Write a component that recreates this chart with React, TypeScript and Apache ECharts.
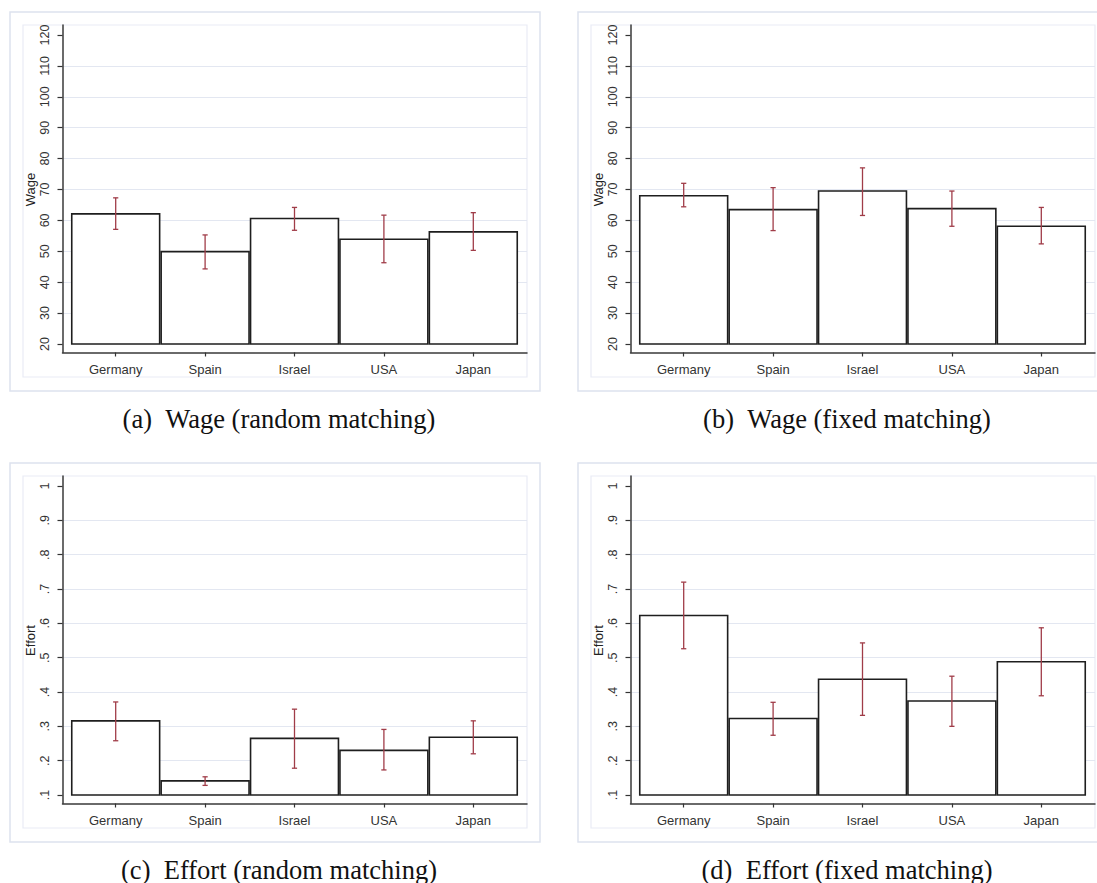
import React, { useEffect, useRef } from "react";
import * as echarts from "echarts";

const countries = ["Germany", "Spain", "Israel", "USA", "Japan"];

const wageRandomMean = [62.1, 49.9, 60.6, 53.9, 56.3];
const wageRandomLow = [57.1, 44.3, 56.8, 46.3, 50.3];
const wageRandomHigh = [67.3, 55.3, 64.2, 61.7, 62.5];

const wageFixedMean = [68.0, 63.5, 69.5, 63.8, 58.1];
const wageFixedLow = [64.4, 56.7, 61.6, 58.1, 52.4];
const wageFixedHigh = [72.0, 70.6, 77.0, 69.5, 64.2];

const effortRandomMean = [0.316, 0.141, 0.265, 0.23, 0.268];
const effortRandomLow = [0.258, 0.128, 0.178, 0.173, 0.22];
const effortRandomHigh = [0.371, 0.153, 0.35, 0.291, 0.316];

const effortFixedMean = [0.623, 0.323, 0.437, 0.374, 0.488];
const effortFixedLow = [0.526, 0.274, 0.332, 0.3, 0.389];
const effortFixedHigh = [0.72, 0.37, 0.543, 0.446, 0.587];

const wageTickLabels = ["20", "30", "40", "50", "60", "70", "80", "90", "100", "110", "120"];
const effortTickLabels = [".1", ".2", ".3", ".4", ".5", ".6", ".7", ".8", ".9", "1"];

const captions = [
  "(a)\u00a0\u00a0Wage (random matching)",
  "(b)\u00a0\u00a0Wage (fixed matching)",
  "(c)\u00a0\u00a0Effort (random matching)",
  "(d)\u00a0\u00a0Effort (fixed matching)",
];

const SANS = "'Liberation Sans', Arial, sans-serif";
const SERIF = "'Liberation Serif', 'Times New Roman', serif";
const ERR_COLOR = "#a03c48";
const GRID_COLOR = "#e3e7f1";

type Panel = {
  dx: number;
  dy: number;
  name: string;
  min: number;
  max: number;
  interval: number;
  tickLabels: string[];
  mean: number[];
  low: number[];
  high: number[];
  caption: string;
};

const panels: Panel[] = [
  { dx: 0, dy: 0, name: "Wage", min: 20, max: 120, interval: 10, tickLabels: wageTickLabels, mean: wageRandomMean, low: wageRandomLow, high: wageRandomHigh, caption: captions[0] },
  { dx: 568, dy: 0, name: "Wage", min: 20, max: 120, interval: 10, tickLabels: wageTickLabels, mean: wageFixedMean, low: wageFixedLow, high: wageFixedHigh, caption: captions[1] },
  { dx: 0, dy: 451, name: "Effort", min: 0.1, max: 1, interval: 0.1, tickLabels: effortTickLabels, mean: effortRandomMean, low: effortRandomLow, high: effortRandomHigh, caption: captions[2] },
  { dx: 568, dy: 451, name: "Effort", min: 0.1, max: 1, interval: 0.1, tickLabels: effortTickLabels, mean: effortFixedMean, low: effortFixedLow, high: effortFixedHigh, caption: captions[3] },
];

function buildOption() {
  const grid: any[] = [];
  const xAxis: any[] = [];
  const yAxis: any[] = [];
  const series: any[] = [];
  const graphic: any[] = [];

  panels.forEach((p, k) => {
    const { dx, dy } = p;
    const nTicks = p.tickLabels.length;
    // Grid A: frame axis lines
    grid.push({ left: 62.5 + dx, top: 25 + dy, width: 464.5, height: 327.5, containLabel: false });
    // Grid B: y ticks, labels, gridlines
    grid.push({ left: 62.5 + dx, top: 35 + dy, width: 464.5, height: 309, containLabel: false });
    // Grid C: data
    grid.push({ left: 71 + dx, top: 35 + dy, width: 447, height: 309, containLabel: false });

    const gA = 3 * k, gB = 3 * k + 1, gC = 3 * k + 2;
    const axisLineStyle = { color: "#3a3a3a", width: 1.5 };

    xAxis.push({
      type: "value", gridIndex: gA, min: 0, max: 1,
      axisLine: { show: true, onZero: false, lineStyle: axisLineStyle },
      axisTick: { show: false }, axisLabel: { show: false }, splitLine: { show: false },
    });
    yAxis.push({
      type: "value", gridIndex: gA, min: 0, max: 1,
      axisLine: { show: true, onZero: false, lineStyle: axisLineStyle },
      axisTick: { show: false }, axisLabel: { show: false }, splitLine: { show: false },
    });

    xAxis.push({ type: "value", gridIndex: gB, min: 0, max: 1, show: false });
    const splitColors = p.tickLabels.map((_, i) => (i === 0 || i === nTicks - 1 ? "rgba(0,0,0,0)" : GRID_COLOR));
    yAxis.push({
      type: "value", gridIndex: gB, min: p.min, max: p.max, interval: p.interval,
      axisLine: { show: false },
      axisTick: { show: true, length: 5, lineStyle: { color: "#333", width: 1.2 } },
      axisLabel: {
        rotate: 90, margin: 11, fontSize: 12.5, color: "#333", fontFamily: SANS,
        formatter: (v: number) => {
          const idx = Math.round((v - p.min) / p.interval);
          return p.tickLabels[idx] ?? "";
        },
      },
      splitLine: { show: true, lineStyle: { color: splitColors, width: 1.2 } },
      name: p.name, nameLocation: "middle", nameGap: 26,
      nameTextStyle: { fontSize: 13, color: "#222", fontFamily: SANS },
    });

    xAxis.push({
      type: "category", gridIndex: gC, data: countries, offset: 8.5,
      axisLine: { show: false },
      axisTick: { show: true, alignWithLabel: true, length: 4, lineStyle: { color: "#333", width: 1.2 } },
      axisLabel: { margin: 10, fontSize: 13, color: "#333", fontFamily: SANS },
      splitLine: { show: false },
    });
    yAxis.push({ type: "value", gridIndex: gC, min: p.min, max: p.max, show: false });

    const data = countries.map((_, i) => [i, p.mean[i], p.low[i], p.high[i]]);
    const base = p.min;

    series.push({
      type: "custom", xAxisIndex: gC, yAxisIndex: gC, data, clip: false, z: 2,
      renderItem: (params: any, api: any) => {
        const i = api.value(0);
        const v = api.value(1);
        const top = api.coord([i, v]);
        const bot = api.coord([i, base]);
        const w = api.size([1, 0])[0];
        return {
          type: "rect",
          shape: { x: top[0] - w / 2 + 0.75, y: top[1], width: w - 1.5, height: bot[1] - top[1] },
          style: { fill: "#ffffff", stroke: "#1e1e1e", lineWidth: 1.6 },
        };
      },
    });
    series.push({
      type: "custom", xAxisIndex: gC, yAxisIndex: gC, data, clip: false, z: 3,
      renderItem: (params: any, api: any) => {
        const i = api.value(0);
        const lo = api.coord([i, api.value(2)]);
        const hi = api.coord([i, api.value(3)]);
        const c = 2.6;
        const st = { stroke: ERR_COLOR, lineWidth: 1.3 };
        return {
          type: "group",
          children: [
            { type: "line", shape: { x1: lo[0], y1: lo[1], x2: hi[0], y2: hi[1] }, style: st },
            { type: "line", shape: { x1: lo[0] - c, y1: lo[1], x2: lo[0] + c, y2: lo[1] }, style: st },
            { type: "line", shape: { x1: hi[0] - c, y1: hi[1], x2: hi[0] + c, y2: hi[1] }, style: st },
          ],
        };
      },
    });

    // frames
    graphic.push({
      type: "rect", z: -10, silent: true,
      shape: { x: 10 + dx, y: 12 + dy, width: 530, height: 379 },
      style: { fill: "none", stroke: "#dde2ee", lineWidth: 1.5 },
    });
    graphic.push({
      type: "rect", z: -10, silent: true,
      shape: { x: 23 + dx, y: 25 + dy, width: 504, height: 352 },
      style: { fill: "none", stroke: "#e9ecf5", lineWidth: 1.2 },
    });
    graphic.push({
      type: "text", silent: true,
      x: 279 + dx, y: 419 + dy,
      style: {
        text: p.caption, font: `26.5px ${SERIF}`, fill: "#111",
        textAlign: "center", textVerticalAlign: "middle",
      },
    });
  });

  return {
    animation: false,
    backgroundColor: "#ffffff",
    grid, xAxis, yAxis, series, graphic,
  };
}

export default function App() {
  const ref = useRef<HTMLDivElement>(null);
  useEffect(() => {
    document.body.style.margin = "0";
    if (!ref.current) return;
    const chart = echarts.init(ref.current, undefined, { renderer: "svg" });
    chart.setOption(buildOption() as any);
    return () => chart.dispose();
  }, []);
  return <div ref={ref} style={{ width: 1097, height: 883 }} />;
}
